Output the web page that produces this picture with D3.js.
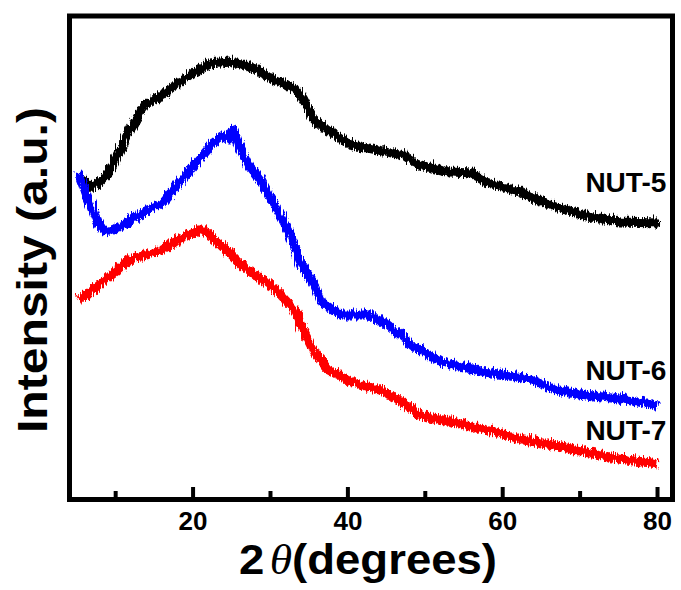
<!DOCTYPE html>
<html>
<script src='https://d3js.org/d3.v7.min.js'></script>
<style>
 body {margin:0; background:#fff;}
 text {font-family:'Liberation Sans', Arial, sans-serif; font-weight:bold;}
</style>
<body onload='init()'>
<svg width=681 height=590></svg>
<script>
// 2theta (deg) and intensity (a.u.)
var ang5 = [5.5,7,9,11.5,13.5,15.5,18,20,22,24.5,26,28,30,33,34,35.5,37.5,39.5,40.5,43,47,49,53,56,57.5,62,66,70,75,80];
var nut5 = [3200,3120,3270,3670,3940,4020,4170,4270,4350,4370,4350,4300,4200,4100,4000,3790,3670,3570,3540,3500,3440,3340,3270,3260,3170,3070,2940,2840,2770,2760];
var ang6 = [5,6.3,7.6,8.4,9.3,11.5,13.5,15.7,17.9,20,22.2,23.5,24.4,25,25.7,27,28.7,30.3,32.2,33.8,35.5,36.4,39,42.5,45.1,48.1,51.9,57.5,63.2,66.2,70.4,74.8,80];
var nut6 = [3270,3000,2750,2670,2690,2770,2870,2950,3150,3340,3540,3620,3600,3700,3540,3340,3170,2940,2670,2340,2140,1970,1840,1840,1740,1540,1370,1270,1200,1100,1040,1000,940];
var ang7 = [5,7.1,9.3,11.5,13.5,15.7,17.9,20,20.9,22.2,24.4,26.5,28.7,30.9,32.9,34.2,35.5,37.3,40.3,44.6,46.8,49,53.2,57.5,61.9,66.2,70.4,74.8,80];
var nut7 = [1990,2100,2250,2390,2440,2490,2590,2670,2710,2620,2470,2310,2200,2060,1890,1670,1470,1290,1170,1070,970,840,770,700,600,540,470,400,350];
var names = ['NUT-5','NUT-6','NUT-7'];
var colors = ['#000000','#0000ff','#ff0000'];
var labelY = [3050,1170,570];
var majorTicks = [20,40,60,80];
var minorTicks = [10,30,50,70];

function init() {
 var svg = d3.select('svg');
 var x = d3.scaleLinear().domain([4.1, 82]).range([69.5, 672.5]);
 var y = d3.scaleLinear().domain([0, 4810]).range([497, 16]);

 // rough edge, like the noisy diffractogram trace
 var f = svg.append('defs').append('filter').attr('id','noisy')
  .attr('x','-5%').attr('y','-20%').attr('width','110%').attr('height','140%');
 f.append('feTurbulence').attr('type','turbulence').attr('baseFrequency','0.9 0.04')
  .attr('numOctaves',2).attr('seed',3).attr('result','t');
 f.append('feDisplacementMap').attr('in','SourceGraphic').attr('in2','t')
  .attr('scale',8).attr('xChannelSelector','B').attr('yChannelSelector','R');

 var series = [[ang5,nut5],[ang6,nut6],[ang7,nut7]];
 var line = d3.line().x(function(d){return x(d[0]);}).y(function(d){return y(d[1]);});
 svg.append('g').selectAll('path')
  .data(series)
  .enter()
  .append('path')
  .attr('d', function(s){ return line(d3.zip(s[0], s[1])); })
  .attr('fill','none')
  .attr('stroke', function(s,i){ return colors[i]; })
  .attr('stroke-width',9)
  .attr('stroke-linejoin','round')
  .attr('filter','url(#noisy)');

 svg.append('g').selectAll('text')
  .data(names)
  .enter()
  .append('text')
  .attr('x', x(81.2))
  .attr('y', function(d,i){ return y(labelY[i]); })
  .attr('text-anchor','end')
  .attr('font-size',28)
  .text(function(d){ return d; });

 // bottom axis, ticks pointing in
 var ax = svg.append('g').attr('transform','translate(0,497)')
  .call(d3.axisBottom(x).tickValues(majorTicks).tickSize(-10).tickPadding(15));
 ax.select('.domain').remove();
 ax.selectAll('line').attr('stroke-width',4);
 ax.selectAll('text').attr('font-size',26).attr('font-family',"'Liberation Sans', Arial, sans-serif");
 var mx = svg.append('g').attr('transform','translate(0,497)')
  .call(d3.axisBottom(x).tickValues(minorTicks).tickSize(-6).tickFormat(''));
 mx.select('.domain').remove();
 mx.selectAll('line').attr('stroke-width',4);

 svg.append('rect')
  .attr('x',69.5).attr('y',16).attr('width',603).attr('height',483.5)
  .attr('fill','none').attr('stroke','#000').attr('stroke-width',5);

 var t = svg.append('text').attr('x',368).attr('y',574).attr('text-anchor','middle')
  .attr('font-size',42).attr('textLength',258).attr('lengthAdjust','spacingAndGlyphs');
 t.append('tspan').text('2');
 t.append('tspan').attr('dx',5).attr('font-family','Liberation Serif, serif').attr('font-style','italic').attr('font-weight','normal').text('\u03b8');
 t.append('tspan').text('(degrees)');

 svg.append('text')
  .attr('transform','translate(47,270) rotate(-90)')
  .attr('text-anchor','middle')
  .attr('font-size',42)
  .attr('textLength',326).attr('lengthAdjust','spacingAndGlyphs')
  .text('Intensity (a.u.)');
}
</script>
</body>
</html>
